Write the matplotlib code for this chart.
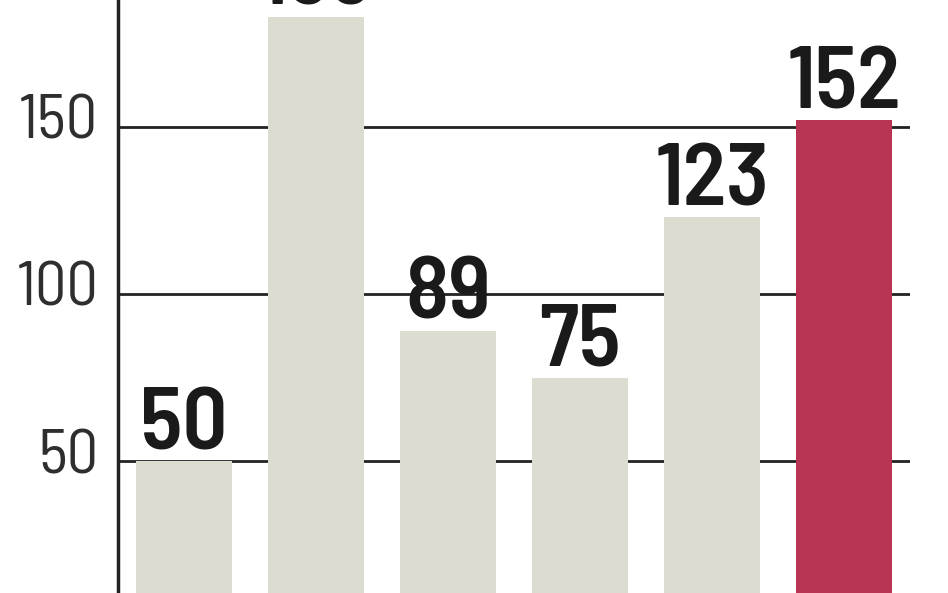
import matplotlib
matplotlib.use("Agg")
import matplotlib.pyplot as plt
import matplotlib.transforms as mtransforms
from matplotlib import font_manager

categories = ["A", "B", "C", "D", "E", "F"]
values = [50, 183, 89, 75, 123, 152]
ytick_values = [0, 50, 100, 150]
ytick_labels = ["0", "50", "100", "150"]

names = {f.name for f in font_manager.fontManager.ttflist}
fam = [n for n in ["Barlow Semi Condensed", "Liberation Sans Narrow", "DejaVu Sans"] if n in names]

GRAY = "#dcdcd1"
RED = "#b73453"
DARK = "#222222"

fig = plt.figure(figsize=(9.48, 5.93), dpi=100)
ax = fig.add_axes([118/948, 0, (910-118)/948, 1])

colors = [GRAY]*(len(values)-1) + [RED]
x = list(range(len(categories)))
ax.bar(x, values, width=0.727, color=colors, zorder=2)

ax.set_yticks(ytick_values)
ax.set_yticklabels(ytick_labels, family=fam, fontsize=45, fontweight=400, color="#2e2e2e")
ax.set_xticks([])
ax.set_xlim(-0.5, 5.5)
ax.set_ylim(10.5, 188)
ax.tick_params(axis="y", length=0, pad=14)
offset = mtransforms.ScaledTranslation(0, 10/100, fig.dpi_scale_trans)
for lab in ax.get_yticklabels():
    lab.set_transform(lab.get_transform() + offset)
ax.grid(axis="y", color=DARK, linewidth=2, zorder=1)
ax.set_axisbelow(True)
for s in ["top", "right", "bottom"]:
    ax.spines[s].set_visible(False)
ax.spines["left"].set_linewidth(2.5)
ax.spines["left"].set_color(DARK)

for xi, v in zip(x, values):
    ax.annotate(str(v), (xi, v), xytext=(0, 8.5), textcoords="offset points",
                ha="center", va="baseline", family=fam, fontweight=600,
                fontsize=64, color="#1a1a1a", zorder=3)

fig.savefig("out.png", dpi=100)
